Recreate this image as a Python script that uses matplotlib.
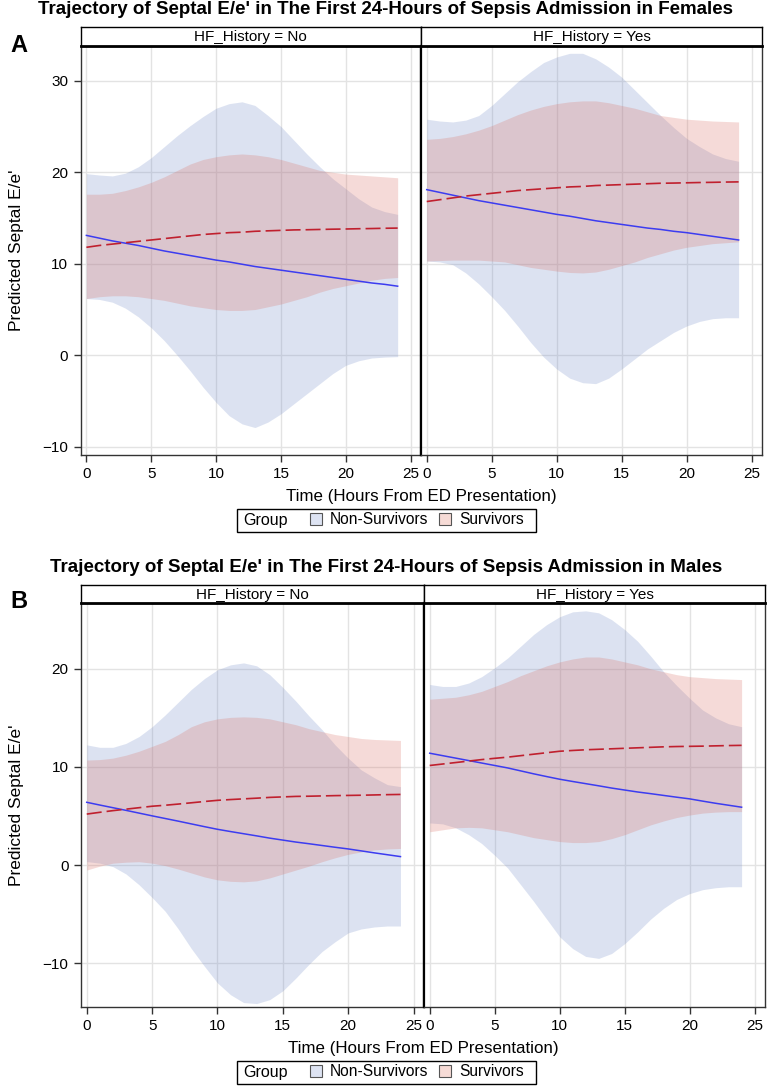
import matplotlib
matplotlib.use('Agg')
from matplotlib import pyplot as plt
from matplotlib.patches import Patch, Rectangle

plt.rcParams['font.family'] = ['Liberation Sans', 'DejaVu Sans']

hours = list(range(25))

# females, no HF history (ns = non-survivors, s = survivors)
f_no_ns_fit = [13.1, 12.8, 12.5, 12.25, 12.0, 11.7, 11.4, 11.15, 10.9, 10.65, 10.4, 10.2, 9.95,
               9.7, 9.5, 9.3, 9.1, 8.9, 8.7, 8.5, 8.3, 8.1, 7.9, 7.75, 7.55]
f_no_ns_lo = [6.2, 6.1, 5.8, 5.15, 4.2, 3.0, 1.6, 0.0, -1.7, -3.5, -5.15, -6.6, -7.5,
              -7.9, -7.3, -6.4, -5.3, -4.2, -3.1, -2.0, -1.1, -0.6, -0.3, -0.2, -0.15]
f_no_ns_hi = [19.85, 19.7, 19.6, 19.9, 20.6, 21.6, 22.8, 24.0, 25.1, 26.1, 27.0, 27.5, 27.7,
              27.3, 26.2, 25.0, 23.5, 22.0, 20.6, 19.3, 18.2, 17.1, 16.2, 15.7, 15.4]
f_no_s_fit = [11.8, 12.0, 12.15, 12.3, 12.45, 12.6, 12.75, 12.9, 13.05, 13.2, 13.3, 13.4, 13.45,
              13.55, 13.6, 13.65, 13.7, 13.72, 13.75, 13.78, 13.8, 13.83, 13.85, 13.88, 13.9]
f_no_s_lo = [6.2, 6.4, 6.5, 6.5, 6.4, 6.2, 6.0, 5.7, 5.4, 5.2, 5.0, 4.9, 4.9,
             5.0, 5.3, 5.6, 6.0, 6.4, 6.9, 7.3, 7.6, 7.9, 8.2, 8.4, 8.5]
f_no_s_hi = [17.6, 17.6, 17.7, 18.0, 18.4, 18.9, 19.5, 20.2, 20.9, 21.4, 21.7, 21.9, 22.0,
             21.9, 21.7, 21.4, 21.0, 20.6, 20.2, 20.0, 19.8, 19.7, 19.6, 19.5, 19.4]

# females, HF history
f_yes_ns_fit = [18.1, 17.8, 17.5, 17.2, 16.9, 16.65, 16.4, 16.15, 15.9, 15.65, 15.4, 15.2, 14.95,
                14.7, 14.5, 14.3, 14.1, 13.9, 13.75, 13.55, 13.4, 13.2, 13.0, 12.8, 12.6]
f_yes_ns_lo = [10.3, 10.2, 9.9, 9.0, 7.8, 6.4, 4.9, 3.2, 1.4, -0.2, -1.5, -2.5, -3.0,
               -3.1, -2.5, -1.5, -0.4, 0.7, 1.6, 2.5, 3.2, 3.7, 4.0, 4.1, 4.1]
f_yes_ns_hi = [25.8, 25.6, 25.5, 25.7, 26.2, 27.3, 28.6, 29.9, 31.0, 32.0, 32.6, 33.0, 33.0,
               32.4, 31.5, 30.4, 29.0, 27.6, 26.2, 24.9, 23.7, 22.8, 22.0, 21.5, 21.2]
f_yes_s_fit = [16.8, 17.0, 17.2, 17.4, 17.55, 17.7, 17.85, 18.0, 18.1, 18.2, 18.3, 18.4, 18.45,
               18.55, 18.6, 18.65, 18.7, 18.75, 18.8, 18.82, 18.85, 18.88, 18.9, 18.93, 18.95]
f_yes_s_lo = [10.3, 10.35, 10.4, 10.4, 10.4, 10.3, 10.2, 9.9, 9.6, 9.4, 9.2, 9.05, 9.0,
              9.1, 9.4, 9.8, 10.2, 10.7, 11.1, 11.5, 11.8, 12.0, 12.2, 12.3, 12.4]
f_yes_s_hi = [23.6, 23.7, 23.9, 24.2, 24.6, 25.1, 25.7, 26.3, 26.8, 27.2, 27.5, 27.7, 27.8,
              27.8, 27.6, 27.3, 27.0, 26.6, 26.2, 26.0, 25.8, 25.7, 25.6, 25.55, 25.5]

# males, no HF history
m_no_ns_fit = [6.4, 6.12, 5.85, 5.58, 5.3, 5.02, 4.75, 4.48, 4.2, 3.92, 3.65, 3.42, 3.2,
               2.98, 2.75, 2.55, 2.35, 2.18, 2.0, 1.82, 1.65, 1.45, 1.25, 1.06, 0.87]
m_no_ns_lo = [0.36, 0.2, -0.15, -0.9, -2.0, -3.3, -4.7, -6.5, -8.5, -10.3, -12.0, -13.2, -14.0,
              -14.1, -13.7, -12.8, -11.5, -10.1, -8.8, -7.8, -6.9, -6.5, -6.3, -6.2, -6.2]
m_no_ns_hi = [12.25, 12.0, 12.0, 12.4, 13.1, 14.1, 15.3, 16.6, 17.9, 19.0, 19.9, 20.4, 20.6,
              20.3, 19.4, 18.1, 16.7, 15.2, 13.8, 12.25, 10.9, 9.7, 8.9, 8.2, 8.0]
m_no_s_fit = [5.2, 5.38, 5.55, 5.7, 5.85, 6.0, 6.1, 6.22, 6.35, 6.48, 6.6, 6.68, 6.75,
              6.82, 6.9, 6.95, 7.0, 7.02, 7.05, 7.08, 7.1, 7.12, 7.15, 7.18, 7.2]
m_no_s_lo = [-0.5, -0.1, 0.2, 0.3, 0.35, 0.2, -0.05, -0.4, -0.8, -1.2, -1.5, -1.65, -1.7,
             -1.6, -1.3, -0.9, -0.5, -0.1, 0.35, 0.75, 1.1, 1.35, 1.55, 1.65, 1.7]
m_no_s_hi = [10.7, 10.75, 10.9, 11.2, 11.6, 12.1, 12.6, 13.3, 14.1, 14.6, 14.9, 15.05, 15.1,
             15.05, 14.9, 14.6, 14.3, 13.9, 13.6, 13.3, 13.1, 12.9, 12.8, 12.75, 12.7]

# males, HF history
m_yes_ns_fit = [11.4, 11.15, 10.9, 10.65, 10.4, 10.15, 9.9, 9.6, 9.3, 9.02, 8.75, 8.52, 8.3,
                8.08, 7.85, 7.65, 7.45, 7.28, 7.1, 6.92, 6.75, 6.52, 6.3, 6.1, 5.9]
m_yes_ns_lo = [4.3, 4.2, 3.8, 3.1, 2.2, 1.0, -0.3, -2.0, -3.7, -5.5, -7.3, -8.5, -9.3,
               -9.5, -9.0, -8.0, -6.8, -5.5, -4.4, -3.5, -2.9, -2.5, -2.3, -2.2, -2.2]
m_yes_ns_hi = [18.4, 18.2, 18.2, 18.55, 19.2, 20.1, 21.1, 22.3, 23.5, 24.5, 25.3, 25.8, 25.9,
               25.7, 25.0, 24.0, 22.8, 21.3, 19.7, 18.3, 17.0, 15.8, 15.0, 14.4, 14.1]
m_yes_s_fit = [10.15, 10.3, 10.45, 10.6, 10.75, 10.88, 11.0, 11.15, 11.3, 11.45, 11.6, 11.68, 11.75,
               11.8, 11.85, 11.9, 11.95, 12.0, 12.05, 12.08, 12.1, 12.12, 12.15, 12.18, 12.2]
m_yes_s_lo = [3.4, 3.6, 3.8, 3.85, 3.8, 3.6, 3.4, 3.1, 2.8, 2.6, 2.4, 2.3, 2.3,
              2.4, 2.7, 3.1, 3.6, 4.1, 4.5, 4.85, 5.1, 5.3, 5.4, 5.45, 5.45]
m_yes_s_hi = [16.9, 17.0, 17.1, 17.35, 17.7, 18.2, 18.7, 19.3, 19.8, 20.3, 20.7, 21.0, 21.2,
              21.2, 21.0, 20.7, 20.4, 20.0, 19.7, 19.4, 19.2, 19.1, 19.0, 18.95, 18.9]

facet_labels = ['HF_History = No', 'HF_History = Yes']
group_labels = ['Non-Survivors', 'Survivors']
x_ticks = [0, 5, 10, 15, 20, 25]

NS_FILL = '#6b85c6'
S_FILL = '#db6f64'
NS_LINE = '#3c3cf0'
S_LINE = '#c0202e'
GRID = '#e3e3e3'
FRAME = '#333333'
W, H = 767.0, 1086.0


def draw_facet(ax, ns, s, ylim, yticks, show_y):
    ax.set_axisbelow(True)
    ax.grid(True, color=GRID, lw=1.0)
    ax.fill_between(hours, ns[1], ns[2], color=NS_FILL, alpha=0.23, lw=0)
    ax.fill_between(hours, s[1], s[2], color=S_FILL, alpha=0.25, lw=0)
    ax.plot(hours, ns[0], color=NS_LINE, lw=1.1)
    ax.plot(hours, s[0], color=S_LINE, lw=1.2, ls=(0, (9, 3)))
    ax.set_xlim(-0.44, 25.8)
    ax.set_ylim(*ylim)
    ax.set_xticks(x_ticks)
    ax.set_yticks(yticks)
    ax.tick_params(direction='out', length=5, width=1, color=FRAME,
                   labelsize=11, pad=4)
    if not show_y:
        ax.tick_params(axis='y', left=False, labelleft=False)
    for sp in ax.spines.values():
        sp.set_color(FRAME)
        sp.set_linewidth(1.0)


def draw_panel(fig, letter, title, panels, ylim, yticks, box):
    left, mid, right, bottom, top, strip = box
    for i, (ns, s) in enumerate(panels):
        x0 = left if i == 0 else mid
        x1 = mid if i == 0 else right
        ax = fig.add_axes([x0 / W, 1 - bottom / H, (x1 - x0) / W, (bottom - top) / H])
        draw_facet(ax, ns, s, ylim, yticks, i == 0)
        side = 'right' if i == 0 else 'left'
        ax.spines[side].set_linewidth(1.6)
        ax.spines[side].set_color('black')
        hdr = fig.add_axes([x0 / W, 1 - top / H, (x1 - x0) / W, strip / H])
        hdr.set_xticks([])
        hdr.set_yticks([])
        for sp in hdr.spines.values():
            sp.set_color('black')
            sp.set_linewidth(1.0)
        hdr.spines['bottom'].set_linewidth(2.0)
        hdr.text(0.5, 0.45, facet_labels[i], ha='center', va='center',
                 fontsize=11, transform=hdr.transAxes)

    fig.text(386 / W, 1 - (top - strip - 17) / H, title, ha='center', va='center',
             fontsize=13.5, fontweight='bold')
    fig.text(10 / W, 1 - (top - 1) / H, letter, ha='left', va='center',
             fontsize=17, fontweight='bold')
    fig.text(17 / W, 1 - (top + bottom) / 2 / H, "Predicted Septal E/e'",
             rotation=90, ha='center', va='center', fontsize=12.5)
    fig.text((left + right) / 2 / W, 1 - (bottom + 42) / H,
             'Time (Hours From ED Presentation)', ha='center', va='center', fontsize=12.2)

    # legend: framed box with "Group" label followed by the two band swatches
    ly = bottom + 65
    fig.patches.append(Rectangle((237 / W, 1 - (ly + 11.5) / H), 299 / W, 23 / H,
                                 transform=fig.transFigure, fill=False,
                                 edgecolor='black', lw=1.0))
    fig.text(243 / W, 1 - ly / H, 'Group', ha='left', va='center', fontsize=11.5)
    handles = [Patch(facecolor='#dde3f2', edgecolor='#555555', lw=0.8),
               Patch(facecolor='#f6dbd6', edgecolor='#555555', lw=0.8)]
    fig.legend(handles, group_labels, ncol=2, loc='center left',
               bbox_to_anchor=(310 / W, 1 - ly / H), frameon=False, fontsize=11.2,
               handlelength=0.75, handleheight=0.75, handletextpad=0.55,
               columnspacing=0.7, borderpad=0, borderaxespad=0)


fig = plt.figure(figsize=(7.67, 10.86), dpi=100)

female = [
    ((f_no_ns_fit, f_no_ns_lo, f_no_ns_hi), (f_no_s_fit, f_no_s_lo, f_no_s_hi)),
    ((f_yes_ns_fit, f_yes_ns_lo, f_yes_ns_hi), (f_yes_s_fit, f_yes_s_lo, f_yes_s_hi)),
]
male = [
    ((m_no_ns_fit, m_no_ns_lo, m_no_ns_hi), (m_no_s_fit, m_no_s_lo, m_no_s_hi)),
    ((m_yes_ns_fit, m_yes_ns_lo, m_yes_ns_hi), (m_yes_s_fit, m_yes_s_lo, m_yes_s_hi)),
]

draw_panel(fig, 'A',
           "Trajectory of Septal E/e' in The First 24-Hours of Sepsis Admission in Females",
           female, (-10.9, 33.8), [-10, 0, 10, 20, 30],
           (80.7, 421, 762, 455, 46, 19))
draw_panel(fig, 'B',
           "Trajectory of Septal E/e' in The First 24-Hours of Sepsis Admission in Males",
           male, (-14.45, 26.7), [-10, 0, 10, 20],
           (81, 424, 765, 1007, 603, 18))

fig.savefig('out.png', dpi=100)
